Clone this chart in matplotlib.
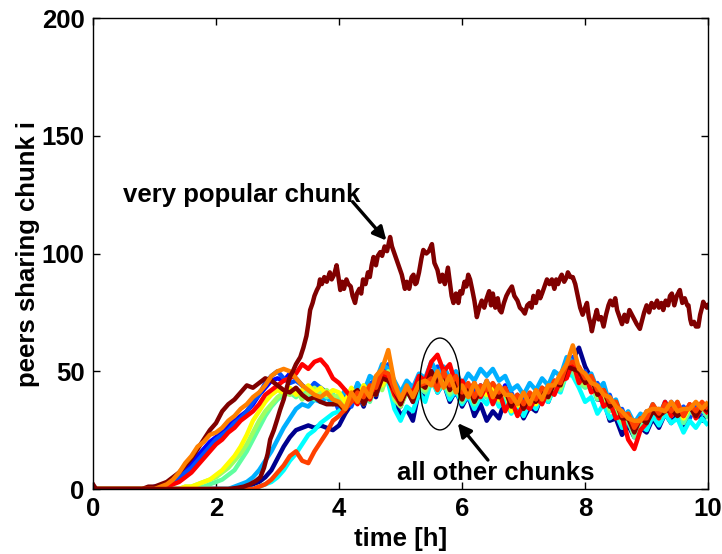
import numpy as np
import matplotlib
matplotlib.use("Agg")
import matplotlib.pyplot as plt
from matplotlib.patches import Ellipse

plt.rcParams['font.family'] = ['Liberation Sans', 'DejaVu Sans']
plt.rcParams['font.weight'] = 'bold'

# ---- very popular chunk (irregular time samples) ----
pop_t = [0, 0.05, 2.2, 2.35, 2.45, 2.55, 2.65, 2.72, 2.78, 2.84, 2.88, 2.94, 3.0, 3.04, 3.1, 3.15, 3.2, 3.25, 3.3,
         3.37, 3.42, 3.47, 3.5, 3.53, 3.57, 3.6, 3.64, 3.67, 3.69, 3.72, 3.76, 3.8, 3.85, 3.88, 3.92, 3.96, 3.99,
         4.02, 4.05, 4.08, 4.12, 4.15, 4.19, 4.22, 4.26, 4.29, 4.33, 4.36, 4.39, 4.43, 4.47, 4.5, 4.53, 4.56, 4.6,
         4.63, 4.67, 4.7, 4.74, 4.78, 4.83, 4.86, 4.9, 4.94, 4.98, 5.02, 5.07, 5.1, 5.14, 5.18, 5.21, 5.24, 5.26,
         5.3, 5.34, 5.37, 5.42, 5.46, 5.51, 5.55, 5.6, 5.64, 5.68, 5.72, 5.77, 5.8, 5.83, 5.86, 5.9, 5.94, 5.97,
         6.0, 6.04, 6.07, 6.1, 6.13, 6.17, 6.2, 6.24, 6.28, 6.32, 6.36, 6.4, 6.44, 6.47, 6.5, 6.54, 6.58, 6.61,
         6.64, 6.68, 6.72, 6.76, 6.81, 6.85, 6.9, 6.94, 6.98, 7.02, 7.06, 7.1, 7.13, 7.16, 7.2, 7.24, 7.27, 7.3,
         7.34, 7.38, 7.42, 7.46, 7.5, 7.53, 7.56, 7.6, 7.62, 7.66, 7.7, 7.72, 7.76, 7.8, 7.84, 7.88, 7.92, 7.96,
         8.0, 8.03, 8.06, 8.09, 8.11, 8.15, 8.19, 8.22, 8.26, 8.3, 8.34, 8.38, 8.41, 8.45, 8.49, 8.52, 8.56, 8.6,
         8.64, 8.68, 8.72, 8.76, 8.8, 8.84, 8.89, 8.92, 8.96, 9.0, 9.04, 9.08, 9.12, 9.17, 9.2, 9.24, 9.27, 9.31,
         9.35, 9.38, 9.41, 9.45, 9.49, 9.54, 9.58, 9.62, 9.66, 9.68, 9.71, 9.73, 9.77, 9.8, 9.84, 9.87, 9.9, 9.92,
         9.95, 9.98, 10.0]
pop_y = [2, 0, 0, 0.5, 1, 2, 3.5, 5, 9, 15, 21, 25, 30, 33.5, 38, 43, 47.7, 50, 53,
         56, 60, 65, 70, 76, 79, 82, 84.5, 86, 89, 87, 90, 88, 92, 89, 91, 95, 90,
         84.5, 88, 85, 89, 87, 86, 82, 79, 83, 85, 83, 89, 87, 92, 90, 95, 98.5, 95,
         99, 100.6, 99, 103, 101, 107, 103, 100, 97, 94, 91, 85, 88, 85, 90, 91, 87, 87.5,
         92, 98, 101.5, 100, 101, 104, 96, 93, 88, 91, 87, 94, 88, 82, 79, 83, 79, 84,
         83, 88, 86, 91, 89, 84, 80, 73, 77, 80, 77, 81, 84, 78, 83, 77, 81, 76,
         75, 79, 82, 84, 86, 82, 80, 77, 76, 74.5, 78, 79, 77, 82, 79, 84, 81, 83,
         86, 89, 87, 89, 85, 89, 87, 90, 91, 88, 90, 92, 90, 90, 87, 82, 77, 74,
         77, 79, 73, 70, 67, 72, 76, 72, 73, 69, 74, 78, 80, 78, 81, 76, 73, 70,
         74, 71, 76, 74, 72, 70, 68, 71, 75, 78, 75, 79, 77, 80, 77, 79, 76, 80,
         78, 82, 83, 78, 82, 84.5, 79, 81, 78, 78, 72, 70, 71, 69, 69, 74, 77, 79.5,
         78, 77, 78]

# ---- all other chunks ----
# ramp part: one value every 0.1 h from the onset time up to 3.9 h
# band part: one value every 0.1 h from 4.0 h to 10.0 h
other_colors = ['#00008F', '#0000FF', '#0050FF', '#00AFFF', '#00FFFF', '#60FF9F',
                '#9FFF60', '#FFFF00', '#FF0000', '#800000', '#FF4000', '#FF8000']
other_onset = [2.2, 0.9, 1.0, 2.2, 2.6, 1.6, 1.4, 1.4, 1.1, 0.7, 2.6, 1.0]
other_ramp = [
    [0, 0, 1, 1, 2, 3, 5, 8, 13, 18, 22, 25, 26, 27, 26, 27, 26, 25],
    [0, 1, 1, 2, 4, 6, 8, 11, 14, 17, 20, 22, 25, 27, 29, 31, 33, 36, 40, 43, 46, 47, 46, 49, 47, 44, 42, 43, 40, 41, 38],
    [0, 1, 2, 3, 5, 7, 9, 12, 15, 18, 21, 23, 25, 28, 30, 33, 37, 40, 45, 48, 50, 47, 45, 46, 44, 42, 45, 43, 41, 40],
    [0, 1, 2, 3, 5, 8, 12, 16, 21, 26, 30, 34, 36, 35, 38, 37, 39, 36],
    [0, 1, 2, 3, 5, 8, 12, 15, 19, 23, 25, 28, 30, 32],
    [0, 1, 1, 2, 3, 4, 6, 8, 12, 16, 21, 26, 31, 35, 38, 40, 41, 39, 42, 40, 38, 41, 39, 40],
    [0, 1, 1, 2, 3, 4, 5, 7, 9, 12, 15, 19, 24, 29, 33, 36, 39, 41, 40, 42, 38, 41, 43, 40, 42, 39],
    [0, 1, 1, 2, 3, 4, 6, 8, 11, 14, 18, 23, 29, 33, 37, 40, 42, 41, 43, 40, 42, 44, 41, 43, 40, 42],
    [0, 1, 2, 3, 5, 7, 10, 13, 16, 19, 21, 24, 26, 29, 31, 33, 36, 40, 42, 44, 46, 47, 49, 53, 51, 54, 55, 52, 47],
    [0, 0, 1, 1, 2, 3, 5, 7, 10, 13, 17, 21, 25, 28, 33, 36, 38, 41, 44, 43, 45, 47, 46, 44, 42, 41, 43, 40, 38, 39, 37, 36],
    [0, 1, 2, 4, 7, 10, 14, 16, 12, 11, 16, 20, 24, 29],
    [0, 1, 2, 4, 7, 11, 14, 18, 20, 23, 24, 26, 29, 31, 34, 36, 39, 41, 44, 48, 50, 51, 50, 47, 44, 42, 40, 39, 41, 38],
]
other_band = [
    [27, 32, 36, 41, 35, 43, 39, 50, 46, 38, 31, 34, 29, 42, 38, 49, 41, 45, 37, 42,
     35, 40, 31, 36, 29, 33, 30, 38, 33, 36, 30, 35, 33, 40, 37, 44, 43, 52, 55, 60,
     52, 47, 38, 38, 29, 30, 23, 27, 22, 26, 24, 30, 26, 32, 28, 33, 27, 31, 34, 29, 32],
    [38, 33, 40, 44, 36, 45, 41, 52, 48, 40, 35, 42, 38, 45, 43, 50, 46, 51, 42, 46,
     38, 43, 36, 44, 39, 42, 37, 44, 35, 39, 33, 39, 36, 43, 40, 46, 44, 55, 53, 48,
     44, 46, 39, 41, 35, 36, 29, 31, 23, 29, 27, 33, 30, 35, 31, 36, 29, 34, 32, 35, 31],
    [33, 40, 35, 42, 38, 44, 47, 45, 53, 41, 36, 43, 37, 46, 41, 49, 52, 44, 48, 40,
     44, 38, 43, 39, 46, 40, 44, 37, 41, 35, 39, 34, 41, 37, 44, 41, 47, 49, 56, 46,
     50, 42, 45, 37, 40, 32, 34, 27, 29, 26, 33, 30, 34, 31, 37, 32, 35, 30, 36, 32, 35],
    [38, 42, 37, 45, 41, 48, 46, 53, 51, 46, 41, 46, 43, 49, 47, 54, 49, 52, 47, 50,
     44, 49, 46, 51, 48, 51, 46, 48, 42, 44, 40, 45, 42, 47, 44, 50, 48, 56, 54, 51,
     46, 49, 42, 45, 36, 38, 30, 33, 28, 32, 30, 36, 31, 37, 33, 36, 29, 34, 32, 35, 31],
    [33, 36, 38, 41, 36, 42, 40, 48, 45, 34, 29, 35, 33, 41, 37, 46, 41, 45, 38, 42,
     36, 40, 34, 39, 36, 41, 35, 38, 32, 36, 31, 37, 34, 40, 37, 43, 41, 49, 48, 43,
     37, 39, 32, 36, 30, 32, 26, 29, 23, 27, 25, 31, 27, 32, 28, 30, 24, 29, 26, 30, 27],
    [38, 35, 41, 38, 42, 37, 44, 43, 48, 39, 36, 41, 38, 43, 41, 46, 42, 45, 40, 43,
     37, 42, 36, 41, 39, 42, 37, 40, 35, 37, 34, 38, 36, 41, 38, 43, 42, 49, 50, 45,
     43, 44, 38, 40, 33, 35, 28, 29, 22, 28, 29, 34, 30, 34, 31, 35, 28, 33, 31, 34, 30],
    [40, 36, 42, 39, 44, 39, 46, 42, 50, 38, 35, 41, 39, 44, 42, 49, 43, 47, 41, 45,
     38, 43, 37, 42, 40, 44, 38, 41, 36, 39, 35, 40, 37, 43, 39, 45, 43, 51, 52, 46,
     44, 45, 39, 41, 34, 36, 29, 31, 24, 30, 29, 35, 31, 36, 33, 37, 30, 35, 33, 36, 32],
    [41, 37, 43, 38, 44, 40, 45, 44, 49, 41, 37, 42, 40, 45, 43, 49, 45, 48, 42, 46,
     39, 44, 37, 43, 40, 44, 38, 42, 33, 36, 34, 40, 36, 42, 39, 45, 44, 51, 53, 48,
     45, 47, 40, 41, 35, 37, 30, 32, 25, 30, 29, 35, 31, 36, 32, 36, 30, 35, 33, 36, 32],
    [45, 42, 39, 36, 42, 38, 44, 49, 47, 40, 36, 43, 41, 48, 46, 54, 57, 50, 53, 44,
     46, 41, 45, 39, 44, 36, 42, 33, 38, 31, 36, 34, 39, 36, 42, 40, 46, 47, 54, 45,
     49, 41, 43, 35, 37, 30, 31, 21, 17, 25, 28, 35, 30, 37, 31, 35, 31, 36, 30, 35, 32],
    [36, 33, 40, 42, 36, 41, 40, 47, 46, 42, 36, 42, 37, 45, 43, 50, 45, 49, 42, 46,
     38, 44, 37, 42, 43, 40, 39, 42, 35, 40, 34, 40, 37, 42, 39, 45, 44, 52, 51, 50,
     45, 47, 40, 42, 35, 37, 30, 30, 24, 30, 28, 33, 31, 33, 34, 31, 33, 35, 31, 35, 33],
    [31, 34, 37, 41, 39, 44, 43, 50, 49, 42, 38, 43, 40, 44, 45, 47, 42, 50, 44, 48,
     41, 45, 39, 44, 42, 45, 41, 43, 37, 40, 36, 41, 38, 43, 41, 46, 45, 53, 54, 52,
     47, 48, 42, 42, 37, 37, 31, 32, 26, 30, 30, 36, 32, 36, 33, 37, 31, 36, 33, 37, 34],
    [37, 34, 41, 37, 43, 39, 48, 51, 59, 45, 38, 44, 39, 45, 46, 44, 50, 43, 48, 41,
     44, 39, 45, 40, 46, 39, 44, 40, 40, 36, 41, 36, 42, 38, 44, 44, 49, 53, 61, 51,
     49, 45, 44, 40, 39, 35, 33, 30, 29, 29, 33, 34, 34, 33, 37, 33, 34, 34, 37, 34, 37],
]

x_ticks = [0, 2, 4, 6, 8, 10]
y_ticks = [0, 50, 100, 150, 200]

fig = plt.figure(figsize=(7.22, 5.54), dpi=100)
ax = fig.add_axes([0.1288, 0.1173, 0.852, 0.8502])

lw = 3.2
for col, t0, ramp, band in zip(other_colors, other_onset, other_ramp, other_band):
    t_r = t0 + 0.1 * np.arange(len(ramp))
    t_b = 4.0 + 0.1 * np.arange(len(band))
    t = np.concatenate([[0.0], t_r, t_b])
    y = np.concatenate([[0.0], ramp, band])
    ax.plot(t, y, color=col, lw=lw, solid_joinstyle='round', solid_capstyle='butt')

ax.plot(pop_t, pop_y, color='#800000', lw=lw, solid_joinstyle='round')

ax.set_xlim(0, 10)
ax.set_ylim(0, 200)
ax.set_xticks(x_ticks)
ax.set_yticks(y_ticks)
ax.tick_params(direction='in', length=5, width=1, top=True, right=True,
               labelsize=18.5, pad=6)
for lab in ax.get_xticklabels() + ax.get_yticklabels():
    lab.set_fontweight('bold')
for s in ax.spines.values():
    s.set_linewidth(1.0)

ax.set_xlabel('time [h]', fontsize=18.5, fontweight='bold', labelpad=4)
ax.set_ylabel('peers sharing chunk i', fontsize=18.5, fontweight='bold', labelpad=1)

ax.text(0.49, 122, 'very popular chunk', fontsize=18.5, fontweight='bold',
        ha='left', va='baseline')
ax.annotate('', xy=(4.77, 105.5), xytext=(4.22, 122),
            arrowprops=dict(arrowstyle='-|>', color='black', lw=2.4,
                            mutation_scale=20, shrinkA=0, shrinkB=0))
ax.text(4.94, 3.8, 'all other chunks', fontsize=18.5, fontweight='bold',
        ha='left', va='baseline', zorder=11)
ax.annotate('', xy=(5.93, 28), xytext=(6.42, 12.3),
            arrowprops=dict(arrowstyle='-|>', color='black', lw=2.4,
                            mutation_scale=20, shrinkA=0, shrinkB=0))

ell = Ellipse((5.64, 44.6), 0.65, 39, fill=False, edgecolor='black', lw=1.0, zorder=10)
ax.add_patch(ell)

fig.savefig('out.png', dpi=100)
